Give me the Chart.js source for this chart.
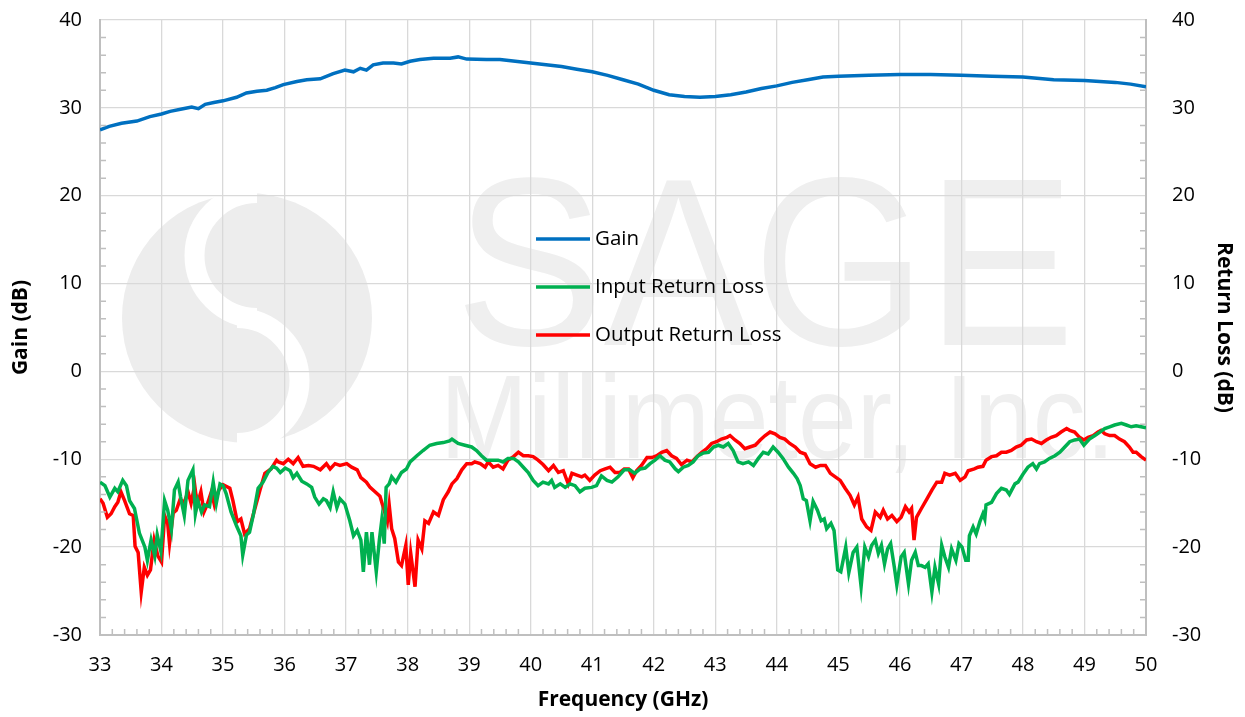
<!DOCTYPE html>
<html>
<head>
<meta charset="utf-8">
<script src="https://cdn.jsdelivr.net/npm/chart.js@4.4.1/dist/chart.umd.min.js"></script>
<style>
  body { margin: 0; background: #fff; }
</style>
</head>
<body>
<canvas id="gainChart" width="1245" height="717"></canvas>
<script>
// values
const gainFreq = [33.0, 33.15, 33.35, 33.6, 33.81, 34.0, 34.14, 34.35, 34.49, 34.6, 34.71, 34.85, 35.0, 35.22, 35.38, 35.55, 35.71, 35.85, 35.98, 36.2, 36.36, 36.58, 36.79, 36.98, 37.12, 37.23, 37.33, 37.44, 37.6, 37.77, 37.9, 38.04, 38.2, 38.42, 38.69, 38.82, 38.96, 39.28, 39.5, 39.75, 40.0, 40.25, 40.5, 40.75, 41.0, 41.25, 41.5, 41.75, 42.0, 42.25, 42.5, 42.75, 43.0, 43.25, 43.5, 43.75, 44.0, 44.25, 44.5, 44.75, 45.0, 45.5, 46.0, 46.5, 47.0, 47.5, 48.0, 48.5, 49.0, 49.5, 49.75, 50.0];
const gainDb = [27.5, 27.9, 28.25, 28.5, 29.0, 29.3, 29.6, 29.9, 30.1, 29.9, 30.4, 30.6, 30.8, 31.2, 31.7, 31.9, 32.0, 32.3, 32.65, 33.0, 33.2, 33.3, 33.9, 34.3, 34.1, 34.5, 34.3, 34.9, 35.1, 35.1, 35.0, 35.3, 35.5, 35.65, 35.65, 35.8, 35.55, 35.5, 35.5, 35.3, 35.1, 34.9, 34.7, 34.4, 34.1, 33.7, 33.2, 32.7, 32.0, 31.5, 31.3, 31.2, 31.3, 31.5, 31.8, 32.2, 32.5, 32.9, 33.2, 33.5, 33.6, 33.7, 33.8, 33.8, 33.7, 33.6, 33.5, 33.2, 33.1, 32.9, 32.7, 32.4];

const inputFreq = [33.0, 33.08, 33.16, 33.24, 33.29, 33.37, 33.43, 33.48, 33.56, 33.64, 33.73, 33.77, 33.83, 33.89, 33.93, 33.99, 34.05, 34.1, 34.16, 34.21, 34.27, 34.31, 34.37, 34.43, 34.51, 34.55, 34.59, 34.65, 34.7, 34.78, 34.84, 34.89, 34.95, 35.0, 35.05, 35.13, 35.22, 35.29, 35.32, 35.38, 35.43, 35.49, 35.57, 35.65, 35.73, 35.81, 35.87, 35.93, 36.01, 36.09, 36.14, 36.2, 36.28, 36.36, 36.44, 36.49, 36.56, 36.63, 36.68, 36.74, 36.79, 36.85, 36.9, 36.98, 37.06, 37.12, 37.18, 37.24, 37.28, 37.33, 37.38, 37.42, 37.49, 37.54, 37.58, 37.62, 37.65, 37.7, 37.74, 37.81, 37.9, 37.98, 38.04, 38.15, 38.25, 38.36, 38.47, 38.58, 38.68, 38.72, 38.82, 38.93, 39.04, 39.12, 39.2, 39.28, 39.37, 39.47, 39.55, 39.63, 39.72, 39.8, 39.88, 39.96, 40.04, 40.12, 40.2, 40.29, 40.34, 40.39, 40.48, 40.56, 40.64, 40.72, 40.8, 40.88, 40.99, 41.07, 41.15, 41.24, 41.32, 41.42, 41.52, 41.61, 41.69, 41.78, 41.86, 41.94, 42.02, 42.1, 42.18, 42.26, 42.35, 42.4, 42.48, 42.56, 42.64, 42.72, 42.8, 42.89, 42.97, 43.05, 43.13, 43.21, 43.29, 43.37, 43.45, 43.54, 43.62, 43.7, 43.78, 43.86, 43.94, 44.02, 44.1, 44.19, 44.27, 44.33, 44.38, 44.43, 44.48, 44.54, 44.59, 44.66, 44.72, 44.77, 44.81, 44.88, 44.93, 44.99, 45.04, 45.12, 45.17, 45.24, 45.3, 45.37, 45.43, 45.49, 45.54, 45.6, 45.65, 45.7, 45.75, 45.8, 45.85, 45.91, 45.95, 46.02, 46.07, 46.14, 46.19, 46.25, 46.3, 46.35, 46.41, 46.46, 46.52, 46.57, 46.63, 46.68, 46.73, 46.79, 46.84, 46.91, 46.96, 47.01, 47.07, 47.11, 47.13, 47.19, 47.24, 47.3, 47.35, 47.38, 47.4, 47.49, 47.57, 47.65, 47.73, 47.78, 47.87, 47.92, 48.0, 48.08, 48.16, 48.22, 48.27, 48.35, 48.43, 48.52, 48.6, 48.68, 48.76, 48.84, 48.92, 48.99, 49.08, 49.17, 49.25, 49.33, 49.41, 49.49, 49.6, 49.68, 49.76, 49.84, 49.92, 50.0];
const inputDb = [-12.6, -13.0, -14.3, -13.3, -13.7, -12.4, -13.0, -14.7, -15.6, -18.4, -20.0, -21.5, -19.2, -21.0, -18.6, -20.5, -14.7, -15.8, -18.0, -13.5, -12.6, -14.3, -16.4, -12.4, -11.2, -16.2, -14.7, -16.0, -15.2, -15.4, -12.6, -15.0, -12.8, -13.0, -13.9, -16.0, -17.6, -18.7, -20.9, -18.6, -18.3, -16.4, -13.3, -12.6, -11.5, -10.8, -11.0, -11.5, -11.0, -11.3, -12.1, -11.6, -12.5, -12.8, -13.2, -14.3, -15.1, -14.5, -14.7, -15.5, -13.7, -15.5, -14.5, -15.1, -17.0, -18.7, -18.1, -19.2, -22.8, -18.3, -22.0, -18.3, -22.8, -19.2, -16.9, -19.6, -13.2, -12.8, -12.0, -12.6, -11.5, -11.1, -10.3, -9.6, -9.0, -8.4, -8.2, -8.1, -7.9, -7.7, -8.2, -8.4, -8.6, -9.0, -9.6, -10.1, -10.1, -10.1, -10.3, -9.9, -9.9, -10.3, -10.9, -11.5, -12.4, -13.0, -12.6, -12.8, -12.4, -13.2, -12.8, -13.2, -12.8, -13.0, -13.7, -13.3, -13.2, -13.0, -11.9, -12.4, -12.6, -12.0, -11.2, -11.2, -11.6, -11.1, -11.0, -10.5, -10.1, -9.6, -10.1, -10.3, -11.1, -11.4, -10.9, -10.7, -10.3, -9.6, -9.3, -9.2, -8.6, -8.4, -8.6, -8.2, -9.0, -10.3, -10.5, -10.3, -10.7, -9.9, -9.2, -9.4, -8.6, -9.2, -9.9, -10.9, -11.6, -12.2, -13.0, -14.5, -14.7, -17.0, -14.8, -15.8, -17.0, -16.8, -17.9, -17.3, -18.1, -22.6, -22.8, -20.0, -22.9, -20.6, -20.0, -24.5, -20.0, -21.1, -19.8, -19.2, -20.7, -19.8, -21.9, -20.2, -19.6, -22.3, -24.3, -21.1, -20.6, -24.2, -21.5, -20.6, -22.1, -22.1, -22.3, -21.9, -25.1, -22.3, -24.2, -19.8, -21.1, -22.3, -20.2, -21.5, -19.6, -20.0, -21.5, -21.5, -18.7, -17.7, -18.5, -17.1, -16.2, -16.8, -15.2, -14.9, -13.9, -13.3, -13.5, -14.0, -12.8, -12.6, -11.7, -10.9, -10.5, -11.1, -10.5, -10.3, -9.9, -9.6, -9.2, -8.6, -8.0, -7.8, -7.7, -8.4, -7.7, -7.3, -6.9, -6.5, -6.3, -6.1, -5.9, -6.1, -6.3, -6.2, -6.3, -6.4];

const outputFreq = [33.0, 33.05, 33.12, 33.18, 33.24, 33.29, 33.34, 33.4, 33.48, 33.54, 33.57, 33.62, 33.67, 33.72, 33.77, 33.82, 33.88, 33.94, 34.0, 34.05, 34.1, 34.13, 34.19, 34.24, 34.3, 34.37, 34.43, 34.48, 34.54, 34.58, 34.64, 34.69, 34.74, 34.81, 34.86, 34.93, 35.0, 35.11, 35.16, 35.23, 35.29, 35.35, 35.43, 35.51, 35.6, 35.68, 35.78, 35.87, 35.9, 35.98, 36.06, 36.14, 36.22, 36.3, 36.39, 36.47, 36.58, 36.68, 36.74, 36.82, 36.9, 37.01, 37.09, 37.18, 37.24, 37.33, 37.39, 37.47, 37.55, 37.63, 37.67, 37.7, 37.74, 37.79, 37.85, 37.9, 37.97, 38.01, 38.05, 38.12, 38.17, 38.23, 38.28, 38.34, 38.42, 38.5, 38.58, 38.66, 38.72, 38.8, 38.88, 38.96, 39.04, 39.09, 39.18, 39.26, 39.31, 39.39, 39.47, 39.55, 39.63, 39.72, 39.8, 39.88, 39.96, 40.04, 40.12, 40.2, 40.29, 40.37, 40.45, 40.53, 40.61, 40.67, 40.75, 40.83, 40.88, 40.96, 41.04, 41.13, 41.21, 41.29, 41.37, 41.45, 41.52, 41.59, 41.66, 41.72, 41.8, 41.89, 41.97, 42.05, 42.13, 42.21, 42.29, 42.37, 42.45, 42.54, 42.62, 42.7, 42.78, 42.86, 42.94, 43.02, 43.1, 43.19, 43.24, 43.32, 43.4, 43.48, 43.56, 43.65, 43.73, 43.81, 43.89, 43.97, 44.05, 44.13, 44.21, 44.3, 44.38, 44.46, 44.54, 44.63, 44.71, 44.79, 44.87, 44.95, 45.03, 45.11, 45.19, 45.26, 45.32, 45.38, 45.46, 45.53, 45.6, 45.68, 45.73, 45.8, 45.87, 45.95, 46.02, 46.09, 46.15, 46.19, 46.23, 46.27, 46.35, 46.44, 46.52, 46.6, 46.68, 46.73, 46.81, 46.9, 46.98, 47.06, 47.11, 47.21, 47.27, 47.35, 47.4, 47.49, 47.57, 47.65, 47.73, 47.81, 47.89, 47.97, 48.06, 48.14, 48.22, 48.3, 48.38, 48.46, 48.54, 48.62, 48.71, 48.76, 48.84, 48.92, 48.99, 49.06, 49.14, 49.22, 49.27, 49.33, 49.41, 49.49, 49.57, 49.65, 49.73, 49.79, 49.84, 49.92, 50.0];
const outputDb = [-14.5, -15.0, -16.6, -16.2, -15.4, -14.9, -13.7, -14.7, -16.2, -16.4, -19.9, -20.6, -25.1, -22.3, -23.2, -22.6, -19.2, -21.0, -21.7, -16.4, -17.3, -19.6, -16.1, -15.8, -14.6, -14.9, -13.7, -15.0, -13.0, -15.2, -13.7, -16.0, -15.2, -13.7, -15.2, -13.5, -12.9, -13.3, -14.7, -17.1, -16.8, -18.5, -17.9, -15.8, -13.5, -11.6, -11.1, -10.1, -10.3, -10.5, -10.0, -10.5, -9.8, -10.8, -10.7, -10.8, -11.2, -10.5, -11.1, -10.5, -10.7, -10.5, -10.9, -11.2, -12.1, -12.6, -13.2, -13.7, -14.2, -16.1, -17.1, -15.2, -17.9, -19.0, -21.7, -22.1, -19.8, -24.3, -20.7, -24.5, -19.2, -20.2, -17.0, -17.3, -16.0, -16.4, -14.6, -13.7, -12.8, -12.2, -11.2, -10.5, -10.5, -10.3, -10.5, -10.9, -10.3, -10.9, -10.7, -11.1, -10.1, -9.7, -9.2, -9.6, -9.6, -9.7, -10.1, -10.6, -11.3, -10.7, -11.5, -11.3, -12.8, -11.6, -11.8, -12.0, -11.8, -12.4, -11.8, -11.3, -11.1, -10.9, -11.5, -11.5, -11.1, -11.1, -12.1, -11.3, -10.7, -9.8, -9.8, -9.6, -9.2, -9.0, -9.6, -9.9, -10.6, -10.1, -10.3, -9.7, -9.2, -8.8, -8.2, -8.0, -7.7, -7.5, -7.3, -7.8, -8.2, -8.8, -8.6, -8.4, -7.8, -7.3, -6.9, -7.1, -7.5, -7.7, -8.2, -8.6, -9.2, -9.4, -10.5, -10.9, -10.7, -10.7, -11.6, -12.0, -12.4, -13.3, -14.1, -15.2, -14.3, -16.8, -17.7, -18.1, -16.0, -16.6, -15.8, -16.8, -16.4, -17.1, -16.6, -15.4, -16.0, -15.6, -19.2, -16.6, -15.6, -14.5, -13.5, -12.6, -12.6, -11.6, -11.8, -11.6, -12.4, -12.0, -11.3, -11.1, -10.9, -10.8, -10.1, -9.7, -9.6, -9.2, -9.2, -9.0, -8.6, -8.4, -7.8, -7.7, -8.0, -8.2, -7.8, -7.5, -7.3, -6.9, -6.5, -6.7, -6.9, -7.5, -7.8, -7.5, -7.3, -6.9, -6.7, -7.1, -7.3, -7.3, -7.7, -8.0, -8.6, -9.2, -9.2, -9.7, -10.1];

const seriesNames = ["Gain", "Input Return Loss", "Output Return Loss"];
const seriesColors = ["#0070c0", "#00b050", "#ff0000"];

const FONT = "'Open Sans', 'Liberation Sans', sans-serif";

function pts(xs, ys) {
    return xs.map((x, i) => ({ x: x, y: ys[i] }));
}

// faint company watermark behind the grid
const watermark = {
    id: "watermark",
    beforeDraw(chart) {
        const { ctx, chartArea: a } = chart;
        ctx.save();
        const cx = a.left + 147, cy = a.top + 298, r = 125;
        ctx.fillStyle = "#ededed";
        ctx.beginPath();
        ctx.arc(cx, cy, r, 0, Math.PI * 2);
        ctx.fill();
        ctx.strokeStyle = "#ffffff";
        ctx.lineWidth = 20;
        ctx.beginPath();
        ctx.arc(cx + 10, cy - r / 2, r / 2, -Math.PI / 2, Math.PI / 2, true);
        ctx.arc(cx - 10, cy + r / 2, r / 2, -Math.PI / 2, Math.PI / 2, false);
        ctx.stroke();

        ctx.fillStyle = "#efefef";
        ctx.textBaseline = "alphabetic";
        ctx.font = "240px 'Liberation Sans', sans-serif";
        ctx.fillText("SAGE", a.left + 355, a.top + 325, 620);
        ctx.font = "118px 'Liberation Sans', sans-serif";
        ctx.fillText("Millimeter, Inc.", a.left + 340, a.top + 438, 675);
        ctx.restore();
    }
};

// small inward tick marks between the gridlines
const minorTicks = {
    id: "minorTicks",
    afterDraw(chart) {
        const { ctx, chartArea: a, scales } = chart;
        ctx.save();
        ctx.strokeStyle = "#bfbfbf";
        ctx.lineWidth = 1.5;
        ctx.beginPath();
        for (let i = 0; i <= 85; i++) {
            if (i % 5 === 0) continue;
            const px = scales.x.getPixelForValue(33 + i * 0.2);
            ctx.moveTo(px, a.bottom);
            ctx.lineTo(px, a.bottom - 6);
        }
        for (let v = -30; v <= 40; v += 2) {
            if (v % 10 === 0) continue;
            const py = scales.y.getPixelForValue(v);
            ctx.moveTo(a.left, py);
            ctx.lineTo(a.left + 6, py);
            ctx.moveTo(a.right, py);
            ctx.lineTo(a.right - 6, py);
        }
        ctx.stroke();
        ctx.restore();
    }
};

// legend sitting inside the plot
const innerLegend = {
    id: "innerLegend",
    afterDatasetsDraw(chart) {
        const { ctx, chartArea: a } = chart;
        ctx.save();
        ctx.font = "20.5px " + FONT;
        ctx.textBaseline = "middle";
        ctx.fillStyle = "#000";
        seriesNames.forEach((name, i) => {
            const y = a.top + 219 + i * 48;
            ctx.strokeStyle = seriesColors[i];
            ctx.lineWidth = 3.5;
            ctx.beginPath();
            ctx.moveTo(a.left + 436, y);
            ctx.lineTo(a.left + 490, y);
            ctx.stroke();
            ctx.fillText(name, a.left + 495, y);
        });
        ctx.restore();
    }
};

// vertical axes: fixed width, no extra label padding above/below
function fixVertical(width) {
    return s => {
        s.width = width;
        s.paddingTop = 0;
        s.paddingBottom = 0;
    };
}

function drawChart() {
    const ctx = document.getElementById("gainChart");
    const lines = [pts(gainFreq, gainDb), pts(inputFreq, inputDb), pts(outputFreq, outputDb)];

    new Chart(ctx, {
        type: "line",
        data: {
            datasets: lines.map((d, i) => ({
                label: seriesNames[i],
                data: d,
                yAxisID: i === 0 ? "y" : "y1",
                borderColor: seriesColors[i],
                borderWidth: 3.5,
                pointRadius: 0,
                tension: 0,
                fill: false
            }))
        },
        options: {
            responsive: false,
            animation: false,
            layout: { padding: { top: 20, left: 0, right: 0, bottom: 0 } },
            plugins: {
                legend: { display: false },
                tooltip: { enabled: false }
            },
            scales: {
                x: {
                    type: "linear",
                    min: 33,
                    max: 50,
                    afterFit: s => { s.height = 82; },
                    ticks: { stepSize: 1, padding: 18, color: "#000", font: { family: FONT, size: 20 } },
                    grid: { color: "#d9d9d9", lineWidth: 1.3, drawTicks: false },
                    border: { color: "#bfbfbf", width: 2 },
                    title: { display: true, text: "Frequency (GHz)", color: "#000", padding: { top: 0, bottom: 4 },
                             font: { family: FONT, size: 21, weight: "bold" } }
                },
                y: {
                    position: "left",
                    min: -30,
                    max: 40,
                    afterFit: fixVertical(100),
                    ticks: { stepSize: 10, padding: 18, color: "#000", font: { family: FONT, size: 20 } },
                    grid: { color: "#d9d9d9", lineWidth: 1.3, drawTicks: false },
                    border: { color: "#bfbfbf", width: 2 },
                    title: { display: true, text: "Gain (dB)", color: "#000", padding: { top: 8, bottom: 0 },
                             font: { family: FONT, size: 21, weight: "bold" } }
                },
                y1: {
                    position: "right",
                    min: -30,
                    max: 40,
                    afterFit: fixVertical(99),
                    ticks: { stepSize: 10, padding: 26, color: "#000", font: { family: FONT, size: 20 } },
                    grid: { display: false, drawTicks: false },
                    border: { color: "#bfbfbf", width: 2 },
                    title: { display: true, text: "Return Loss (dB)", color: "#000", padding: { top: 8, bottom: 0 },
                             font: { family: FONT, size: 21, weight: "bold" } }
                }
            }
        },
        plugins: [watermark, minorTicks, innerLegend]
    });
}

drawChart();
</script>
</body>
</html>
